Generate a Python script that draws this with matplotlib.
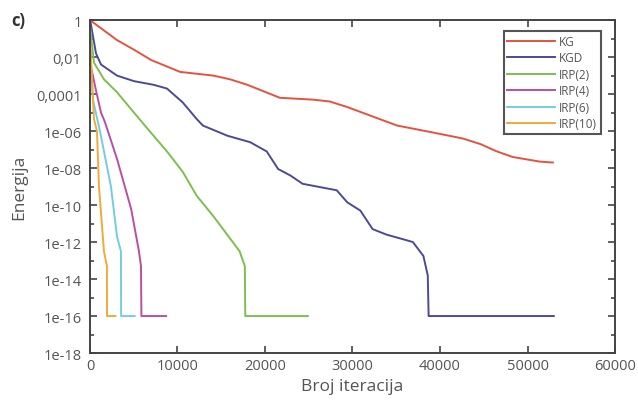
import numpy as np
import matplotlib.pyplot as plt
from matplotlib.ticker import FixedLocator, NullFormatter

plt.rcParams['font.family'] = ['Open Sans', 'DejaVu Sans']

# iterations and log10(energy)
kg_it = [0, 3090, 5030, 7000, 10300, 14100, 16000, 18000, 21700, 25500, 27400,
         29400, 33100, 35100, 38900, 42600, 44600, 46500, 48300, 51400, 52900]
kg_log = [0, -1.08, -1.6, -2.16, -2.8, -3.0, -3.2, -3.5, -4.2, -4.3, -4.4,
          -4.7, -5.35, -5.7, -6.05, -6.4, -6.7, -7.1, -7.4, -7.65, -7.7]

kgd_it = [0, 100, 690, 1260, 3090, 5030, 7300, 8800, 10600, 12200, 12900, 15700,
          18300, 20200, 21500, 22900, 24300, 28200, 29400, 30900, 32300, 33900,
          35800, 36900, 38100, 38600, 38700, 53000]
kgd_log = [0, -0.2, -1.8, -2.4, -3.0, -3.3, -3.5, -3.7, -4.45, -5.35, -5.7, -6.25,
           -6.6, -7.1, -8.05, -8.4, -8.85, -9.2, -9.85, -10.3, -11.3, -11.6,
           -11.85, -12.0, -12.75, -13.8, -16, -16]

irp2_it = [0, 460, 1600, 3090, 5030, 6900, 8800, 10600, 12200, 14100, 16000,
           17100, 17700, 17750, 24900]
irp2_log = [-0.3, -2.3, -3.2, -3.9, -5.0, -6.05, -7.1, -8.2, -9.5, -10.6, -11.8,
            -12.5, -13.3, -16, -16]

irp4_it = [0, 100, 690, 1260, 1700, 3090, 4700, 5600, 5830, 5880, 8700]
irp4_log = [-1.0, -2.5, -3.8, -5.0, -5.5, -7.5, -10.2, -12.5, -13.3, -16, -16]

irp6_it = [0, 340, 1140, 1940, 2400, 3090, 3540, 3560, 5100]
irp6_log = [-1.5, -4.3, -6.0, -7.9, -9.0, -11.7, -12.5, -16, -16]

irp10_it = [0, 460, 800, 1030, 1600, 1940, 1950, 2900]
irp10_log = [-1.0, -5.35, -6.0, -9.0, -12.5, -13.3, -16, -16]

names = ['KG', 'KGD', 'IRP(2)', 'IRP(4)', 'IRP(6)', 'IRP(10)']
colors = ['#e4533d', '#4b4a98', '#7dbf4f', '#b94fa3', '#72cde3', '#f0aa3c']

ytick_vals = [10.0 ** -k for k in range(0, 19, 2)]
ytick_labels = ['1', '0,01', '0,0001', '1e-06', '1e-08', '1e-10', '1e-12',
                '1e-14', '1e-16', '1e-18']

fig = plt.figure(figsize=(6.38, 4.06), dpi=100)
ax = fig.add_axes([0.141, 0.128, 0.823, 0.820])

series = [(kg_it, kg_log), (kgd_it, kgd_log), (irp2_it, irp2_log),
          (irp4_it, irp4_log), (irp6_it, irp6_log), (irp10_it, irp10_log)]
for (it, lg), name, c in zip(series, names, colors):
    ax.plot(it, 10.0 ** np.array(lg), color=c, lw=1.4, label=name)

ax.set_yscale('log')
ax.set_xlim(0, 60000)
ax.set_ylim(1e-18, 1)
ax.yaxis.set_major_locator(FixedLocator(ytick_vals))
ax.yaxis.set_minor_locator(FixedLocator([10.0 ** -k for k in range(1, 18, 2)]))
ax.yaxis.set_minor_formatter(NullFormatter())
ax.set_yticklabels(ytick_labels)
ax.set_xticks([0, 10000, 20000, 30000, 40000, 50000, 60000])

txt = '#555555'
for s in ax.spines.values():
    s.set_color('#444444')
    s.set_linewidth(1.4)
ax.tick_params(which='both', direction='in', top=True, right=True,
               colors='#444444', labelcolor=txt, labelsize=10.5, width=1.2)
ax.tick_params(which='major', length=5)
ax.tick_params(which='minor', length=3)
ax.tick_params(axis='y', which='major', pad=6)

ax.set_xlabel('Broj iteracija', fontsize=12.5, color=txt, labelpad=4)
ax.set_ylabel('Energija', fontsize=12.5, color=txt, labelpad=6)
fig.text(0.018, 0.935, 'c)', fontsize=12, fontweight='bold', color='#333333')

leg = ax.legend(loc='upper right', bbox_to_anchor=(0.973, 0.967), fontsize=8.5,
                handlelength=4.0, handletextpad=0.4, borderpad=0.3,
                labelspacing=0.3, fancybox=False, framealpha=1,
                edgecolor='#555555', borderaxespad=0)
leg.get_frame().set_linewidth(1.5)
for t in leg.get_texts():
    t.set_color(txt)

fig.savefig('out.png', dpi=100)
